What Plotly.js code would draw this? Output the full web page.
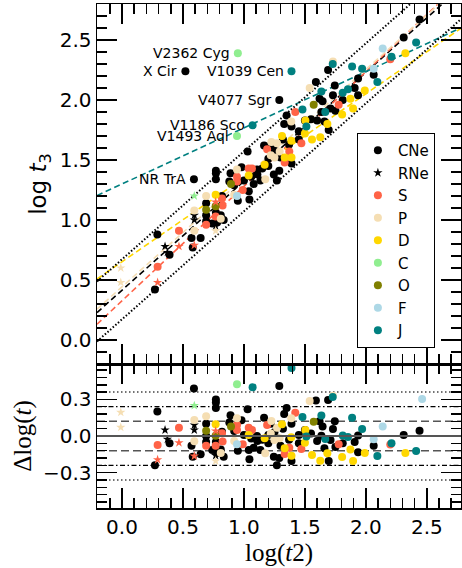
<!DOCTYPE html>
<html>
<head>
<meta charset="utf-8">
<script src="https://cdn.plot.ly/plotly-3.0.1.min.js"></script>
<style>html,body{margin:0;padding:0;background:#fff;}#chart{width:462px;height:568px;}</style>
</head>
<body>
<div id="chart"></div>
<script>
// ---- data (log t2, log t3, residual) ----
const logt2_CNe = [0.29,0.27,0.39,0.59,0.57,0.58,0.645,0.77,0.77,0.77,
  0.69,0.77,0.74,0.82,1.03,1.29,1.35,1.33,1.59,1.69,
  0.89,1.165,1.39,1.745,1.645,1.73,1.00,1.107,1.20,1.45,
  1.635,1.71,1.04,1.08,1.135,1.245,1.29,1.39,1.695,0.834,
  1.045,1.27,0.78,0.81,1.936,2.31,2.44,1.81,1.908,2.064,
  1.936,1.75,0.52,1.15,1.20,1.25,1.28,1.30,1.32,1.37,
  1.45,1.50,1.55,1.60,1.62,1.66,0.92,0.95,1.11,0.69,
  0.69,0.88,0.98,1.06,1.22];
const logt3_CNe = [0.88,0.42,0.71,1.34,0.85,0.77,0.85,1.41,1.39,1.34,
  0.99,1.06,0.97,1.20,1.57,2.00,1.87,1.80,2.15,2.25,
  1.39,1.62,1.78,2.12,1.99,2.04,1.33,1.42,1.51,1.74,
  1.90,1.93,1.24,1.30,1.33,1.38,1.41,1.47,1.75,1.00,
  1.17,1.33,0.98,1.04,2.18,2.52,2.67,2.00,2.10,2.21,
  2.04,1.91,2.24,1.43,1.45,1.58,1.56,1.52,1.67,1.63,
  1.67,1.83,1.84,1.83,2.01,1.82,1.29,1.16,1.38,1.14,
  1.04,1.32,1.44,1.36,1.62];
const dlogt_CNe = [0.20,-0.24,-0.06,0.39,-0.08,-0.17,-0.15,0.30,0.275,0.23,
  -0.05,-0.05,-0.115,0.035,0.22,0.41,0.23,0.18,0.29,0.295,
  0.17,0.15,0.10,0.12,0.077,0.057,0.008,0.0,0.008,0.008,
  0.003,-0.033,-0.115,-0.096,-0.115,-0.17,-0.18,-0.205,-0.205,-0.17,
  -0.19,-0.24,-0.14,-0.11,0.005,0.008,0.044,-0.06,-0.05,-0.08,
  -0.134,-0.09,1.35,-0.03,-0.06,0.03,-0.02,-0.08,0.06,-0.03,
  -0.06,0.05,0.02,-0.04,0.12,-0.10,0.04,-0.12,-0.04,0.10,
  0.0,0.11,0.13,-0.02,0.10];

const logt2_RNe = [0.353,0.372,0.593,0.593,0.768];
const logt3_RNe = [0.78,0.73,1.04,1.00,0.95];
const dlogt_RNe = [0.049,-0.027,0.09,0.049,-0.16];

const logt2_S = [0.292,0.467,0.69,0.768,1.421,0.943,1.039,1.066,1.19,0.943,0.825,0.99,1.334,1.372,1.471,1.777,2.20,0.82];
const logt3_S = [0.61,0.91,0.96,1.03,1.90,1.36,1.43,1.43,1.59,1.32,1.12,1.25,1.48,1.57,1.64,1.96,2.34,1.18];
const dlogt_S = [-0.074,0.068,-0.08,-0.08,0.191,0.09,0.068,0.049,0.09,0.049,-0.046,-0.068,-0.148,-0.096,-0.107,-0.068,-0.07,0.022];
const logt2_S_RNe = [0.292,0.467,0.593,0.768];
const logt3_S_RNe = [0.48,0.78,0.79,1.15];
const dlogt_S_RNe = [-0.194,-0.055,-0.164,0.041];

const logt2_P = [0.593,0.593,0.69,0.81,1.539,0.943,1.225,1.388,1.271,1.25,1.293,1.175,1.73,0.92,1.22];
const logt3_P = [1.08,0.91,1.20,1.01,2.10,1.42,1.65,1.82,1.64,1.52,1.57,1.34,2.32,1.21,1.54];
const dlogt_P = [0.131,-0.043,0.161,-0.14,0.287,0.145,0.123,0.145,0.068,-0.033,-0.019,-0.142,0.33,-0.04,0.02];
const logt2_P_RNe = [-0.01,-0.01,0.768];
const logt3_P_RNe = [0.60,0.48,0.91];
const dlogt_P_RNe = [0.194,0.071,-0.205];

const logt2_D = [0.768,1.312,1.504,1.039,1.17,1.388,1.334,1.39,1.5,1.558,1.684,1.626,1.805,1.895,1.873,1.991,2.324];
const logt3_D = [1.21,1.70,1.83,1.37,1.46,1.66,1.52,1.52,1.72,1.67,1.80,1.69,1.88,1.93,2.01,2.08,2.39];
const dlogt_D = [0.096,0.096,0.049,0.008,-0.019,-0.011,-0.101,-0.161,-0.055,-0.156,-0.142,-0.202,-0.172,-0.205,-0.11,-0.14,-0.14];

const logt2_C = [0.943,0.95];
const logt3_C = [1.70,2.39];
const dlogt_C = [0.424,1.11];
const logt2_C_RNe = [0.593];
const logt3_C_RNe = [1.20];
const dlogt_C_RNe = [0.249];

const logt2_O = [0.69,0.768,0.894,1.572];
const logt3_O = [1.085,1.115,1.30,1.96];
const dlogt_O = [0.044,0.003,0.077,0.117];

const logt2_F = [0.943,2.138,2.064,2.461];
const logt3_F = [1.20,2.43,2.26,2.95];
const dlogt_F = [-0.068,0.077,-0.027,0.303];

const logt2_J = [1.39,1.071,1.728,1.48,1.635,1.512,1.667,1.887,1.969,1.81,1.853,2.21,2.094,2.412];
const logt3_J = [2.24,1.79,2.30,1.92,2.07,1.78,1.90,2.28,2.26,2.06,2.09,2.36,2.15,2.48];
const dlogt_J = [0.557,0.40,0.32,0.156,0.167,-0.005,-0.025,0.15,0.057,0.005,-0.008,-0.06,-0.164,-0.123];

// labelled novae
const labelNames = ["V2362 Cyg","X Cir","V1039 Cen","V4077 Sgr","V1186 Sco","V1493 Aql","NR TrA"];
const labelT2 = [0.95,0.52,1.39,1.29,1.071,0.943,0.59];
const labelT3 = [2.39,2.24,2.24,2.00,1.79,1.70,1.34];

// fitted relations (slope, intercept) per group
const fitNames = ["CNe","S","P","D","J"];
const fitSlope = [0.908,0.954,0.906,0.70,0.468];
const fitIntercept = [0.415,0.327,0.443,0.652,1.30];
const bandSlope = 0.90;
const bandIntercepts = [0.672,0.172];
// residual scatter levels (1, 2, 3 sigma)
const sigmaLevels = [0.12,0.24,0.36];

// ---- styles ----
const colors = {CNe:'black',RNe:'black',S:'tomato',P:'wheat',D:'gold',C:'lightgreen',O:'olive',F:'lightblue',J:'teal'};
const XR = [-0.205,2.78];
const MS = 8;
const SS = 7;

const traces = [];
// fit lines (top panel)
fitNames.forEach((n,i)=>{
  traces.push({x:XR, y:XR.map(v=>fitIntercept[i]+fitSlope[i]*v), xaxis:'x2', yaxis:'y2', mode:'lines',
    line:{color:colors[n], width:1.6, dash:'6px,3.5px'}, showlegend:false, hoverinfo:'skip'});
});
bandIntercepts.forEach(b=>{
  traces.push({x:XR, y:XR.map(v=>b+bandSlope*v), xaxis:'x2', yaxis:'y2', mode:'lines',
    line:{color:'black', width:2, dash:'1.5px,2px'}, showlegend:false, hoverinfo:'skip'});
});

function addGroup(name, t2, t3, dt, symbol, legend, size){
  const col = colors[name];
  traces.push({x:t2, y:t3, xaxis:'x2', yaxis:'y2', mode:'markers', name:name, legendgroup:name,
    showlegend:legend, marker:{color:col, size:size, symbol:symbol, line:{width:0}}});
  traces.push({x:t2, y:dt, xaxis:'x', yaxis:'y', mode:'markers', name:name, legendgroup:name,
    showlegend:false, marker:{color:col, size:size, symbol:symbol, line:{width:0}}});
}
addGroup('CNe', logt2_CNe, logt3_CNe, dlogt_CNe, 'circle', true, MS);
addGroup('RNe', logt2_RNe, logt3_RNe, dlogt_RNe, 'star', true, SS);
addGroup('S', logt2_S, logt3_S, dlogt_S, 'circle', true, MS);
addGroup('P', logt2_P, logt3_P, dlogt_P, 'circle', true, MS);
addGroup('D', logt2_D, logt3_D, dlogt_D, 'circle', true, MS);
addGroup('C', logt2_C, logt3_C, dlogt_C, 'circle', true, MS);
addGroup('O', logt2_O, logt3_O, dlogt_O, 'circle', true, MS);
addGroup('F', logt2_F, logt3_F, dlogt_F, 'circle', true, MS);
addGroup('J', logt2_J, logt3_J, dlogt_J, 'circle', true, MS);
addGroup('S', logt2_S_RNe, logt3_S_RNe, dlogt_S_RNe, 'star', false, SS);
addGroup('P', logt2_P_RNe, logt3_P_RNe, dlogt_P_RNe, 'star', false, SS);
addGroup('C', logt2_C_RNe, logt3_C_RNe, dlogt_C_RNe, 'star', false, SS);

// residual reference lines
const shapes = [{type:'line', xref:'x domain', yref:'y', x0:0, x1:1, y0:0, y1:0, line:{color:'#555', width:2}}];
const sigStyles = [{color:'#555',dash:'8px,4px',width:1.5},{color:'black',dash:'5px,2.5px,1.5px,2.5px',width:1.3},{color:'#444',dash:'1.5px,2.5px',width:1.5}];
sigmaLevels.forEach((s,i)=>{
  [s,-s].forEach(v=>shapes.push({type:'line', xref:'x domain', yref:'y', x0:0, x1:1, y0:v, y1:v, line:sigStyles[i], layer:'below'}));
});

const annotations = labelNames.map((n,i)=>({x:labelT2[i], y:labelT3[i], xref:'x2', yref:'y2', text:n, showarrow:false,
  xanchor:'right', yanchor:'middle', xshift:-6, yshift:0, font:{family:'DejaVu Sans', size:14, color:'black'}}));

const tickFont = {family:'DejaVu Sans', size:20, color:'black'};
const axCommon = {showline:true, linecolor:'black', linewidth:1.5, mirror:'allticks', ticks:'inside', ticklen:20, tickwidth:1.5,
  tickcolor:'black', showgrid:false, zeroline:false, tickfont:tickFont};
const BOT = 144/504;

const layout = {
  width:462, height:568, margin:{l:97, r:1, t:4, b:60}, paper_bgcolor:'white', plot_bgcolor:'white',
  showlegend:true,
  xaxis: Object.assign({}, axCommon, {domain:[0,1], anchor:'y', range:XR, tick0:0, dtick:0.5, tickformat:'.1f',
    minor:{ticks:'inside', ticklen:10, tickwidth:1.5, tickcolor:'black', dtick:0.1, tick0:0},
    title:{text:'log(<i>t</i>2)', font:{family:'Liberation Serif', size:25, color:'black'}, standoff:6}}),
  yaxis: Object.assign({}, axCommon, {domain:[0,BOT], anchor:'x', range:[-0.59,0.59], tickmode:'array',
    tickvals:[-0.3,0,0.3], ticktext:['\u22120.3','0.0','0.3'],
    minor:{ticks:'inside', ticklen:10, tickwidth:1.5, tickcolor:'black', tickmode:'linear', dtick:0.06, tick0:0},
    title:{text:'\u0394log(<i>t</i>)', font:{family:'Liberation Serif', size:25, color:'black'}, standoff:4}}),
  xaxis2: Object.assign({}, axCommon, {domain:[0,1], anchor:'y2', matches:'x', range:XR, showticklabels:false, tick0:0, dtick:0.5,
    minor:{ticks:'inside', ticklen:10, tickwidth:1.5, tickcolor:'black', dtick:0.1, tick0:0}}),
  yaxis2: Object.assign({}, axCommon, {domain:[BOT,1], anchor:'x2', range:[-0.2,2.8], tick0:0, dtick:0.5, tickformat:'.1f',
    minor:{ticks:'inside', ticklen:10, tickwidth:1.5, tickcolor:'black', dtick:0.1, tick0:0},
    title:{text:'log <i>t</i><sub>3</sub>', font:{family:'DejaVu Sans', size:23, color:'black'}, standoff:6}}),
  legend:{x:0.714, y:0.744, xanchor:'left', yanchor:'top', bgcolor:'white', bordercolor:'black', borderwidth:1,
    font:{family:'DejaVu Sans', size:15, color:'black'}, traceorder:'normal', tracegroupgap:0},
  shapes:shapes, annotations:annotations
};

Plotly.newPlot('chart', traces, layout, {staticPlot:true, displayModeBar:false});
</script>
</body>
</html>
